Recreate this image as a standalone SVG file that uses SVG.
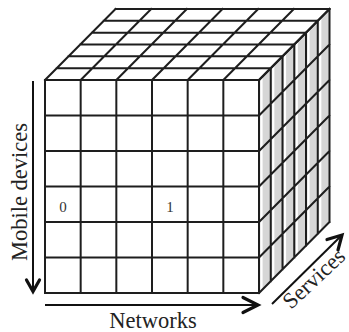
<svg xmlns="http://www.w3.org/2000/svg" width="349" height="332" viewBox="0 0 349 332">
  <style>
    .grid { fill: none; stroke: #1e1e1e; stroke-width: 2; stroke-linecap: square; }
    .axis { fill: none; stroke: #111; stroke-width: 2; }
    .head { fill: none; stroke: #111; stroke-width: 3.2; stroke-linecap: round; stroke-linejoin: miter; }
    .lbl { font-family: "Liberation Serif", "Times New Roman", serif; font-size: 22.5px; fill: #222; }
    .cell { font-family: "Liberation Serif", "Times New Roman", serif; font-size: 15px; fill: #333; text-anchor: middle; }
  </style>
  <defs>
    <clipPath id="sideClip">
      <polygon points="259,80 329.5,9 329.5,222 259,293"/>
    </clipPath>
  </defs>
  <rect width="349" height="332" fill="#fff"/>

  <!-- cube: 6 x 6 x 6 grid -->
  <g id="cube">
    <!-- faces -->
    <polygon id="top-face" points="45,80 115.5,9 329.5,9 259,80" fill="#fff"/>
    <rect id="front-face" x="45" y="80" width="214" height="213" fill="#fff"/>
    <polygon id="side-face" points="259,80 329.5,9 329.5,222 259,293" fill="#d6d6d6"/>
    <!-- light strips along each slab of the side face -->
    <g clip-path="url(#sideClip)" stroke="#fff" stroke-width="2.2">
      <path d="M261.5 76 V293 M273.25 64 V281 M285 52 V269 M296.75 40 V257.5 M308.5 28 V245.7 M320.25 16 V234"/>
    </g>
    <!-- top face grid -->
    <path class="grid" d="M45 80 H259 M56.75 68.17 H270.75 M68.5 56.33 H282.5 M80.25 44.5 H294.25 M92 32.67 H306 M103.75 20.83 H317.75 M115.5 9 H329.5
      M45 80 L115.5 9 M80.67 80 L151.17 9 M116.33 80 L186.83 9 M152 80 L222.5 9 M187.67 80 L258.17 9 M223.33 80 L293.83 9 M259 80 L329.5 9"/>
    <!-- front face grid -->
    <path class="grid" d="M45 80 H259 M45 115.5 H259 M45 151 H259 M45 186.5 H259 M45 222 H259 M45 257.5 H259 M45 293 H259
      M45 80 V293 M80.67 80 V293 M116.33 80 V293 M152 80 V293 M187.67 80 V293 M223.33 80 V293 M259 80 V293"/>
    <!-- side face grid -->
    <path class="grid" d="M259 80 V293 M270.75 68.17 V281.17 M282.5 56.33 V269.33 M294.25 44.5 V257.5 M306 32.67 V245.67 M317.75 20.83 V233.83 M329.5 9 V222
      M259 80 L329.5 9 M259 115.5 L329.5 44.5 M259 151 L329.5 80 M259 186.5 L329.5 115.5 M259 222 L329.5 151 M259 257.5 L329.5 186.5 M259 293 L329.5 222"/>
    <!-- cell values -->
    <text class="cell" x="63" y="212">0</text>
    <text class="cell" x="170" y="212">1</text>
  </g>

  <!-- axes -->
  <g id="axes">
    <g id="axis-mobile">
      <path class="axis" d="M33 81 V291"/>
      <path class="head" d="M26.5 280 L33 291.5 L39.5 280"/>
    </g>
    <g id="axis-networks">
      <path class="axis" d="M45 305 H257"/>
      <path class="head" d="M243 297.5 L258 305 L243 312.5"/>
    </g>
    <g id="axis-services">
      <path class="axis" d="M272 304 L341 236"/>
      <path class="head" d="M327 239.5 L342 235 L338 250"/>
    </g>
  </g>

  <!-- axis labels -->
  <g id="labels">
    <text class="lbl" text-anchor="middle" transform="translate(27,192) rotate(-90)">Mobile devices</text>
    <text class="lbl" text-anchor="middle" x="153" y="328">Networks</text>
    <text class="lbl" transform="translate(291,310) rotate(-43)">Services</text>
  </g>
</svg>
